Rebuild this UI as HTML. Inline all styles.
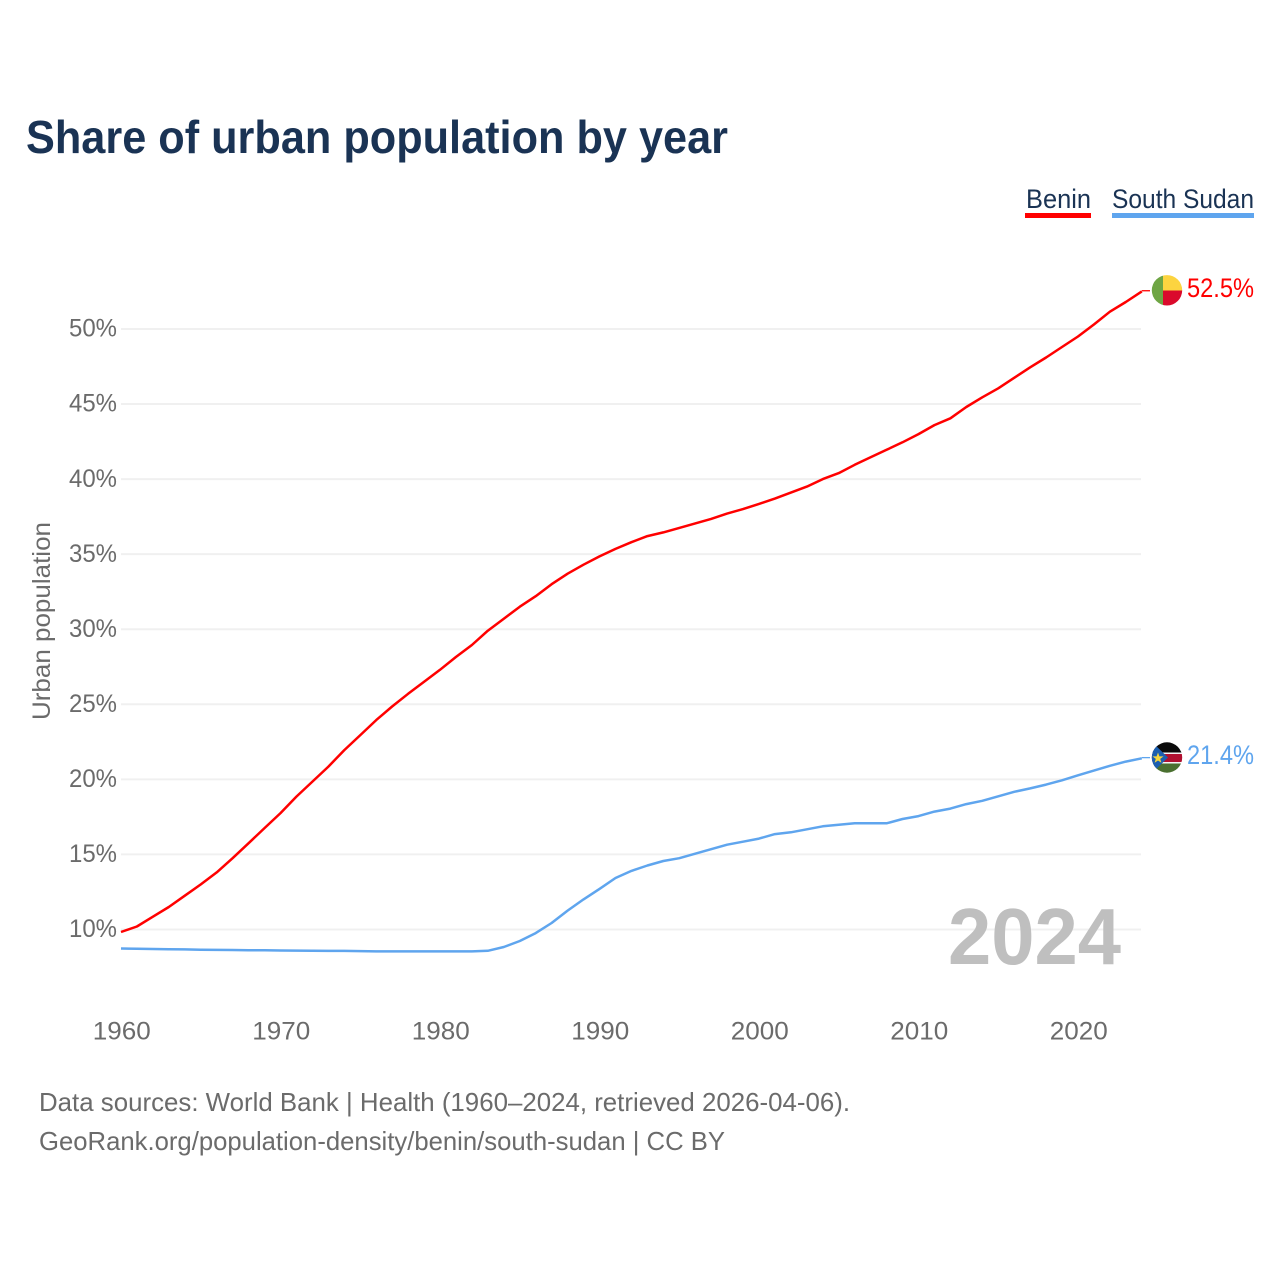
<!DOCTYPE html>
<html lang="en">
<head>
<meta charset="utf-8">
<title>Share of urban population by year</title>
<style>
html,body{margin:0;padding:0;background:#fff;}
svg{display:block;font-family:"Liberation Sans",sans-serif;}
</style>
</head>
<body>
<svg id="chart" width="1280" height="1280" viewBox="0 0 1280 1280" xmlns="http://www.w3.org/2000/svg">
  <defs>
    <clipPath id="clip-benin"><circle cx="1167" cy="290.3" r="15.2"/></clipPath>
    <clipPath id="clip-ss"><circle cx="1167" cy="757.5" r="15.2"/></clipPath>
  </defs>
  <rect width="1280" height="1280" fill="#fff"/>
  <text x="26" y="153" font-size="46" font-weight="700" fill="#1a3354" textLength="702" lengthAdjust="spacingAndGlyphs">Share of urban population by year</text>

  <g>
    <g>
      <text x="1026" y="208" font-size="27" fill="#1a3354" textLength="65" lengthAdjust="spacingAndGlyphs">Benin</text>
      <rect x="1025" y="213" width="66" height="5" fill="#ff0000"/>
    </g>
    <g>
      <text x="1112" y="208" font-size="27" fill="#1a3354" textLength="142" lengthAdjust="spacingAndGlyphs">South Sudan</text>
      <rect x="1112" y="213" width="142" height="5" fill="#5fa5ee"/>
    </g>
  </g>

  <text transform="translate(50 720) rotate(-90)" font-size="25" fill="#6b6b6b" textLength="198" lengthAdjust="spacingAndGlyphs">Urban population</text>

  <g id="grid"></g>
  <g id="yaxis"></g>
  <g id="xaxis"></g>

  <text x="948" y="964" font-size="80" font-weight="700" fill="#bfbfbf" textLength="173" lengthAdjust="spacingAndGlyphs">2024</text>

  <g id="series"></g>

  <g clip-path="url(#clip-benin)">
    <rect x="1151" y="275" width="12" height="31" fill="#6ea544"/>
    <rect x="1163" y="275" width="20" height="15.5" fill="#fcd440"/>
    <rect x="1163" y="290.5" width="20" height="16" fill="#da0a2c"/>
  </g>
  <g clip-path="url(#clip-ss)">
    <rect x="1151" y="742" width="32" height="11" fill="#0a0a0a"/>
    <rect x="1151" y="752.5" width="32" height="11.5" fill="#f4f4f4"/>
    <rect x="1151" y="754" width="32" height="8" fill="#b01030"/>
    <rect x="1151" y="763.5" width="32" height="10" fill="#4a7030"/>
    <polygon points="1151,741 1168,757.5 1151,774" fill="#1c5fb0"/>
    <polygon points="1158,752.5 1159.4,756.4 1163.5,756.4 1160.2,758.9 1161.4,762.8 1158,760.5 1154.6,762.8 1155.8,758.9 1152.5,756.4 1156.6,756.4" fill="#f5d63d"/>
  </g>

  <text x="39" y="1111" font-size="26" fill="#6b6b6b" textLength="811" lengthAdjust="spacingAndGlyphs">Data sources: World Bank | Health (1960–2024, retrieved 2026-04-06).</text>
  <text x="39" y="1150" font-size="26" fill="#6b6b6b" textLength="686" lengthAdjust="spacingAndGlyphs">GeoRank.org/population-density/benin/south-sudan | CC BY</text>
</svg>
<script>
const years = [1960,1961,1962,1963,1964,1965,1966,1967,1968,1969,1970,1971,1972,1973,1974,1975,1976,1977,1978,1979,1980,1981,1982,1983,1984,1985,1986,1987,1988,1989,1990,1991,1992,1993,1994,1995,1996,1997,1998,1999,2000,2001,2002,2003,2004,2005,2006,2007,2008,2009,2010,2011,2012,2013,2014,2015,2016,2017,2018,2019,2020,2021,2022,2023,2024];
const beninValues = [9.83,10.2,10.85,11.5,12.25,13.0,13.8,14.75,15.75,16.75,17.75,18.85,19.85,20.85,21.95,22.95,23.95,24.85,25.7,26.5,27.3,28.15,28.95,29.9,30.7,31.5,32.2,33.0,33.7,34.3,34.85,35.35,35.8,36.2,36.45,36.75,37.05,37.35,37.7,38.0,38.35,38.7,39.1,39.5,40.0,40.4,40.95,41.45,41.95,42.45,43.0,43.6,44.05,44.8,45.45,46.05,46.75,47.45,48.1,48.8,49.5,50.3,51.15,51.8,52.5];
const southSudanValues = [8.73,8.71,8.70,8.68,8.67,8.65,8.64,8.63,8.62,8.61,8.60,8.59,8.58,8.57,8.57,8.56,8.54,8.54,8.54,8.54,8.54,8.54,8.54,8.58,8.83,9.23,9.76,10.43,11.26,12.0,12.7,13.43,13.9,14.26,14.56,14.75,15.05,15.35,15.65,15.85,16.05,16.35,16.47,16.67,16.87,16.97,17.07,17.07,17.07,17.36,17.55,17.85,18.05,18.35,18.57,18.87,19.17,19.4,19.65,19.94,20.27,20.58,20.9,21.18,21.4];
const yTickValues = [10,15,20,25,30,35,40,45,50];
const xTickValues = [1960,1970,1980,1990,2000,2010,2020];
const seriesNames = ["benin","south-sudan"];
const seriesColors = ["#ff0000","#5fa5ee"];

const NS = "http://www.w3.org/2000/svg";
const xScale = function (yr) { return 121 + (yr - 1960) * 15.95; };
const yScale = function (v) { return 1079.6 - v * 15.0125; };

const grid = document.getElementById("grid");
const yaxis = document.getElementById("yaxis");
const xaxis = document.getElementById("xaxis");
const seriesGroup = document.getElementById("series");
const chart = document.getElementById("chart");

yTickValues.forEach(function (v) {
  const line = document.createElementNS(NS, "line");
  
  
  line.setAttribute("x1", 121);
  line.setAttribute("x2", 1141);
  line.setAttribute("y1", yScale(v));
  line.setAttribute("y2", yScale(v));
  line.setAttribute("stroke", "#f0f0f0");
  line.setAttribute("stroke-width", 2);
  grid.appendChild(line);

  const label = document.createElementNS(NS, "text");
  
  
  label.setAttribute("x", 69);
  label.setAttribute("y", yScale(v) + 7.7);
  label.setAttribute("font-size", 25);
  label.setAttribute("fill", "#6b6b6b");
  label.setAttribute("textLength", 48);
  label.setAttribute("lengthAdjust", "spacingAndGlyphs");
  label.textContent = v + "%";
  yaxis.appendChild(label);
});

xTickValues.forEach(function (yr) {
  const label = document.createElementNS(NS, "text");
  
  
  label.setAttribute("x", xScale(yr) - 28.2);
  label.setAttribute("y", 1039.5);
  label.setAttribute("font-size", 25);
  label.setAttribute("fill", "#6b6b6b");
  label.setAttribute("textLength", 58);
  label.setAttribute("lengthAdjust", "spacingAndGlyphs");
  label.textContent = yr;
  xaxis.appendChild(label);
});

[beninValues, southSudanValues].forEach(function (vals, s) {
  const last = vals[vals.length - 1];
  const pts = vals.map(function (v, i) { return xScale(years[i]).toFixed(1) + "," + yScale(v).toFixed(1); });
  const line = document.createElementNS(NS, "polyline");
  
  
  line.setAttribute("points", pts.join(" "));
  line.setAttribute("fill", "none");
  line.setAttribute("stroke", seriesColors[s]);
  line.setAttribute("stroke-width", 2.5);
  line.setAttribute("stroke-linejoin", "round");
  line.setAttribute("data-series", seriesNames[s]);
  seriesGroup.appendChild(line);

  const leader = document.createElementNS(NS, "line");
  
  
  leader.setAttribute("x1", xScale(years[years.length - 1]));
  leader.setAttribute("x2", 1150);
  leader.setAttribute("y1", yScale(last) - 0.7);
  leader.setAttribute("y2", yScale(last) - 0.7);
  leader.setAttribute("stroke", seriesColors[s]);
  leader.setAttribute("stroke-width", 1.3);
  seriesGroup.appendChild(leader);

  const end = document.createElementNS(NS, "text");
  
  
  end.setAttribute("x", 1187);
  end.setAttribute("y", yScale(last) + 5.6);
  end.setAttribute("font-size", 27);
  end.setAttribute("fill", seriesColors[s]);
  end.setAttribute("textLength", 67);
  end.setAttribute("lengthAdjust", "spacingAndGlyphs");
  end.textContent = last.toFixed(1) + "%";
  chart.appendChild(end);
});
</script>
</body>
</html>
